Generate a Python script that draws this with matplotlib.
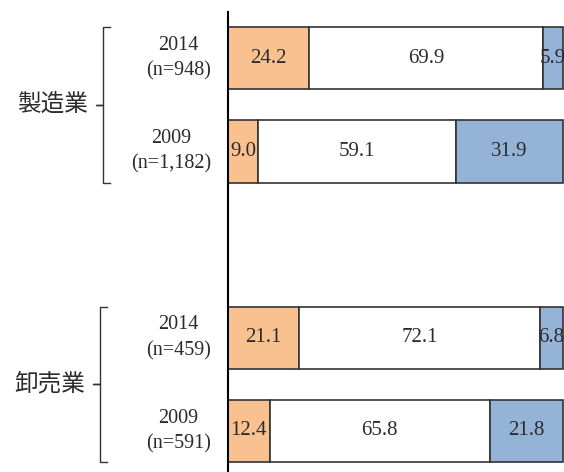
import matplotlib
matplotlib.use('Agg')
import matplotlib.pyplot as plt
from matplotlib.transforms import blended_transform_factory

# data
labels = ['2014\n(n=948)', '2009\n(n=1,182)', '2014\n(n=459)', '2009\n(n=591)']
groups = ['製造業', '卸売業']
orange_vals = [24.2, 9.0, 21.1, 12.4]
white_vals = [69.9, 59.1, 72.1, 65.8]
blue_vals = [5.9, 31.9, 6.8, 21.8]
ypos = [0, 1, 3, 4]

plt.rcParams['font.family'] = ['Liberation Serif', 'Noto Sans CJK JP']

fig = plt.figure(figsize=(5.64, 4.72), dpi=100)
ax = fig.add_axes([228 / 564, 0, 335 / 564, 1 - 12 / 472])

h = 0.67
colors = ['#F9C18F', '#FFFFFF', '#95B3D7']
left = [0] * len(ypos)
for vals, c in zip([orange_vals, white_vals, blue_vals], colors):
    bars = ax.barh(ypos, vals, left=left, height=h, color=c,
                   edgecolor='#333333', linewidth=1.2, clip_on=False)
    for y, l, v in zip(ypos, left, vals):
        ax.text(l + v / 2, y, f'{v:.1f}', ha='center', va='center',
                fontsize=15, color='#2b2b2b')
    left = [a + b for a, b in zip(left, vals)]

ax.set_xlim(0, 100)
ax.set_ylim(4.44, -0.495)
ax.set_xticks([])
ax.set_yticks([])
for s in ['top', 'right', 'bottom']:
    ax.spines[s].set_visible(False)
ax.spines['left'].set_linewidth(1.5)
ax.spines['left'].set_color('black')

# row labels
trans = blended_transform_factory(fig.transFigure, ax.transData)
for y, lab in zip(ypos, labels):
    ax.text(211 / 564, y, lab, transform=trans, ha='right', va='center',
            multialignment='center', fontsize=14.5, color='#2b2b2b',
            linespacing=1.45)

# group braces and labels
for g, (a, b), xl in zip(groups, [(0, 1), (2, 3)], [103, 100]):
    top = ypos[a] - h / 2
    bot = ypos[b] + h / 2
    mid = (top + bot) / 2
    x0 = xl / 564
    xr = (xl + 7) / 564
    xm = (xl - 7) / 564
    ax.plot([xr, x0, x0, xm, x0, x0, xr], [top, top, mid, mid, mid, bot, bot],
            transform=trans, color='#333333', lw=1, clip_on=False)
    ax.text(x0 - 15 / 564, mid, g, transform=trans, ha='right', va='center',
            fontsize=17, color='#2b2b2b')

fig.savefig('out.png', dpi=100)
